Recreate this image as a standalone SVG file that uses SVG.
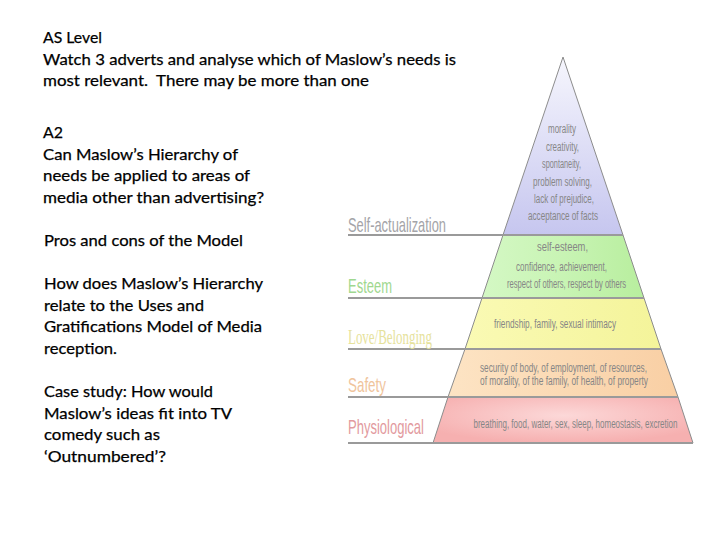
<svg xmlns="http://www.w3.org/2000/svg" width="720" height="540" viewBox="0 0 720 540">
<style>
.q{font-family:Lato,"Liberation Sans",sans-serif;font-size:16px;fill:#000;stroke:#000;stroke-width:0.25}
.lbl{font-family:"Liberation Sans",Arial,sans-serif;font-size:21px}
.bt{font-family:"Liberation Sans",Arial,sans-serif;font-size:12.5px;fill:#868686;text-anchor:middle}
.edge{stroke:#8c8c8c;stroke-width:1}
.sep{stroke:#9a9a9a;stroke-width:2.2}
</style>
<defs>
<linearGradient id="gS" x1="0" y1="0" x2="0" y2="1"><stop offset="0" stop-color="#f6f6fd"/><stop offset="1" stop-color="#c6c6ef"/></linearGradient>
<linearGradient id="gE" x1="0" y1="0" x2="1" y2="0"><stop offset="0" stop-color="#d4f8c4"/><stop offset="0.5" stop-color="#c8f4b4"/><stop offset="1" stop-color="#b8ee9e"/></linearGradient>
<linearGradient id="gL" x1="0" y1="0" x2="1" y2="0"><stop offset="0" stop-color="#fafab4"/><stop offset="1" stop-color="#f4f49a"/></linearGradient>
<linearGradient id="gF" x1="0" y1="0" x2="1" y2="0"><stop offset="0" stop-color="#fde4c4"/><stop offset="1" stop-color="#f9cfa4"/></linearGradient>
<radialGradient id="gP" cx="0.5" cy="0.4" r="0.6"><stop offset="0" stop-color="#fcd8d8"/><stop offset="1" stop-color="#f6b0b0"/></radialGradient>
</defs>
<rect width="720" height="540" fill="#fff"/>

<g id="text-left">
<text class="q" x="43" y="43" textLength="59" lengthAdjust="spacingAndGlyphs">AS Level</text>
<text class="q" x="43" y="65" textLength="413" lengthAdjust="spacingAndGlyphs">Watch 3 adverts and analyse which of Maslow’s needs is</text>
<text class="q" x="43" y="86" textLength="326" lengthAdjust="spacingAndGlyphs" xml:space="preserve">most relevant.  There may be more than one</text>
<text class="q" x="43" y="138" textLength="20" lengthAdjust="spacingAndGlyphs">A2</text>
<text class="q" x="43" y="160" textLength="195" lengthAdjust="spacingAndGlyphs">Can Maslow’s Hierarchy of</text>
<text class="q" x="43" y="181" textLength="207" lengthAdjust="spacingAndGlyphs">needs be applied to areas of</text>
<text class="q" x="43" y="203" textLength="221" lengthAdjust="spacingAndGlyphs">media other than advertising?</text>
<text class="q" x="44" y="246" textLength="199" lengthAdjust="spacingAndGlyphs">Pros and cons of the Model</text>
<text class="q" x="44" y="289" textLength="219" lengthAdjust="spacingAndGlyphs">How does Maslow’s Hierarchy</text>
<text class="q" x="44" y="311" textLength="160" lengthAdjust="spacingAndGlyphs">relate to the Uses and</text>
<text class="q" x="44" y="332" textLength="218" lengthAdjust="spacingAndGlyphs">Gratifications Model of Media</text>
<text class="q" x="44" y="354" textLength="73" lengthAdjust="spacingAndGlyphs">reception.</text>
<text class="q" x="44" y="397" textLength="169" lengthAdjust="spacingAndGlyphs">Case study: How would</text>
<text class="q" x="44" y="419" textLength="188" lengthAdjust="spacingAndGlyphs">Maslow’s ideas fit into TV</text>
<text class="q" x="44" y="440" textLength="116" lengthAdjust="spacingAndGlyphs">comedy such as</text>
<text class="q" x="44" y="462" textLength="122" lengthAdjust="spacingAndGlyphs">‘Outnumbered’?</text>
</g>

<g id="pyramid">
<g id="band-self-actualization">
<polygon points="563,57 623,235 503,235" fill="url(#gS)"/>
<polyline class="edge" points="503,235 563,57 623,235" fill="none"/>
<text class="bt" x="562" y="133" textLength="28" lengthAdjust="spacingAndGlyphs">morality</text>
<text class="bt" x="562.5" y="151" textLength="33" lengthAdjust="spacingAndGlyphs">creativity,</text>
<text class="bt" x="561.5" y="168" textLength="39" lengthAdjust="spacingAndGlyphs">spontaneity,</text>
<text class="bt" x="562.5" y="186" textLength="59" lengthAdjust="spacingAndGlyphs">problem solving,</text>
<text class="bt" x="564" y="203" textLength="60" lengthAdjust="spacingAndGlyphs">lack of prejudice,</text>
<text class="bt" x="563" y="220" textLength="70" lengthAdjust="spacingAndGlyphs">acceptance of facts</text>
</g>
<g id="band-esteem">
<polygon points="503,235 623,235 644,298 482,298" fill="url(#gE)"/>
<line class="edge" x1="503" y1="235" x2="482" y2="298"/>
<line class="edge" x1="623" y1="235" x2="644" y2="298"/>
<text class="bt" x="562.5" y="251" textLength="51" lengthAdjust="spacingAndGlyphs">self-esteem,</text>
<text class="bt" x="561.5" y="271" textLength="91" lengthAdjust="spacingAndGlyphs">confidence, achievement,</text>
<text class="bt" x="566.5" y="288" textLength="119" lengthAdjust="spacingAndGlyphs">respect of others, respect by others</text>
</g>
<g id="band-love">
<polygon points="482,298 644,298 661,349 465,349" fill="url(#gL)"/>
<line class="edge" x1="482" y1="298" x2="465" y2="349"/>
<line class="edge" x1="644" y1="298" x2="661" y2="349"/>
<text class="bt" x="555" y="328" textLength="122" lengthAdjust="spacingAndGlyphs">friendship, family, sexual intimacy</text>
</g>
<g id="band-safety">
<polygon points="465,349 661,349 678,397 448,397" fill="url(#gF)"/>
<line class="edge" x1="465" y1="349" x2="448" y2="397"/>
<line class="edge" x1="661" y1="349" x2="678" y2="397"/>
<text class="bt" x="563.5" y="372" textLength="167" lengthAdjust="spacingAndGlyphs">security of body, of employment, of resources,</text>
<text class="bt" x="564" y="385" textLength="168" lengthAdjust="spacingAndGlyphs">of morality, of the family, of health, of property</text>
</g>
<g id="band-physiological">
<polygon points="448,397 678,397 693,443 433,443" fill="url(#gP)"/>
<line class="edge" x1="448" y1="397" x2="433" y2="443"/>
<line class="edge" x1="678" y1="397" x2="693" y2="443"/>
<text class="bt" x="575.5" y="428" textLength="204" lengthAdjust="spacingAndGlyphs">breathing, food, water, sex, sleep, homeostasis, excretion</text>
</g>
</g>

<g id="connectors">
<line class="sep" x1="348" y1="235" x2="623" y2="235"/>
<line class="sep" x1="348" y1="298" x2="644" y2="298"/>
<line class="sep" x1="348" y1="349" x2="661" y2="349"/>
<line class="sep" x1="348" y1="397" x2="678" y2="397"/>
<line class="sep" x1="348" y1="443" x2="693" y2="443"/>
</g>

<g id="labels">
<text class="lbl" x="348" y="232" fill="#a4a4a8" textLength="98" lengthAdjust="spacingAndGlyphs">Self-actualization</text>
<text class="lbl" x="348" y="293" fill="#9fd890" textLength="44" lengthAdjust="spacingAndGlyphs">Esteem</text>
<text x="348" y="344" fill="#e6e29c" font-family="'Liberation Serif','Times New Roman',serif" font-size="20" textLength="84" lengthAdjust="spacingAndGlyphs">Love/Belonging</text>
<text class="lbl" x="348" y="392" fill="#f0c49c" textLength="38" lengthAdjust="spacingAndGlyphs">Safety</text>
<text class="lbl" x="348" y="434" fill="#e29a9e" textLength="76" lengthAdjust="spacingAndGlyphs">Physiological</text>
</g>
</svg>
